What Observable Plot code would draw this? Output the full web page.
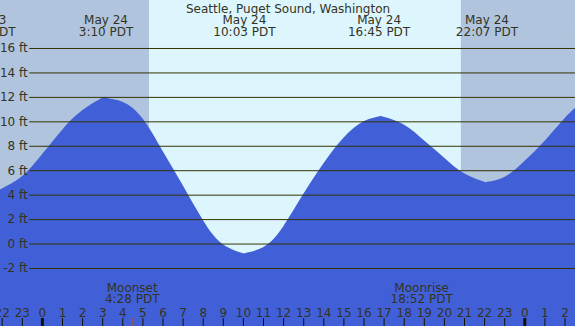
<!DOCTYPE html>
<html><head><meta charset="utf-8">
<script src="https://cdn.jsdelivr.net/npm/d3@7"></script>
<script src="https://cdn.jsdelivr.net/npm/@observablehq/plot@0.6"></script>
<style>html,body{margin:0;padding:0;background:#fff;overflow:hidden}</style>
</head><body><div id="chart"></div>
<script>
// ---- data (hours since May 24 00:00 PDT, heights in feet) ----
const title = "Seattle, Puget Sound, Washington";
const tideHours = [-2.09, -2, -1, 0, 1, 2, 3, 3.167, 4, 5, 6, 7, 8, 9, 10, 10.05, 11, 12, 13, 14, 15, 16, 16.75, 17, 18, 19, 20, 21, 22, 22.117, 23, 24, 25, 26, 26.53];
const tideFeet  = [4.42, 4.5, 5.5, 7.3, 9.3, 10.9, 11.92, 11.93, 11.6, 10.25, 7.6, 4.8, 1.95, -0.05, -0.79, -0.8, -0.3, 1.4, 4.05, 6.55, 8.65, 10.0, 10.4, 10.38, 9.75, 8.45, 7.05, 5.75, 5.05, 5.03, 5.45, 6.75, 8.4, 10.25, 11.1];
const extremeHours = [-2.88, 3.167, 10.05, 16.75, 22.117, 27.82];
const extremeDates = ["May 23", "May 24", "May 24", "May 24", "May 24", "May 25"];
const extremeTimes = ["21:08 PDT", "3:10 PDT", "10:03 PDT", "16:45 PDT", "22:07 PDT", "3:49 PDT"];
const sunriseHour = 5.33;  // 5:20
const sunsetHour = 20.84;  // 20:50
const moonHours = [4.467, 18.867];
const moonNames = ["Moonset", "Moonrise"];
const moonTimes = ["4:28 PDT", "18:52 PDT"];
const hourTicks = [-2, -1, 0, 1, 2, 3, 4, 5, 6, 7, 8, 9, 10, 11, 12, 13, 14, 15, 16, 17, 18, 19, 20, 21, 22, 23, 24, 25, 26];
const hourLabels = ["22", "23", "0", "1", "2", "3", "4", "5", "6", "7", "8", "9", "10", "11", "12", "13", "14", "15", "16", "17", "18", "19", "20", "21", "22", "23", "0", "1", "2"];
const ftTicks = [-2, 0, 2, 4, 6, 8, 10, 12, 14, 16];

// ---- derived tables ----
const xMin = -2.0846, xMax = 26.522;
const yMin = -6.746, yMax = 19.927;
const tide = tideHours.map((h, i) => ({h, ft: tideFeet[i]}));
const extremes = extremeHours.map((h, i) => ({h, label: extremeDates[i] + "\n" + extremeTimes[i]}));
const periods = [
  {x1: xMin, x2: sunriseHour, fill: "#b0c4de"},
  {x1: sunriseHour, x2: sunsetHour, fill: "#ddf6fe"},
  {x1: sunsetHour, x2: xMax, fill: "#b0c4de"}
];
const moon = moonHours.map((h, i) => ({h, label: moonNames[i] + "\n" + moonTimes[i]}));
const hours = hourTicks.map((h, i) => ({h, label: hourLabels[i], midnight: hourLabels[i] === "0"}));

const textColor = "#333322";
const gridColor = "#333300";
const gridStart = -0.63;

const chart = Plot.plot({
  width: 575, height: 326,
  marginTop: 0, marginRight: 0, marginBottom: 0, marginLeft: 0,
  x: {type: "linear", domain: [xMin, xMax], axis: null},
  y: {type: "linear", domain: [yMin, yMax], axis: null},
  style: {fontFamily: "DejaVu Sans", fontSize: "12px", background: "transparent", overflow: "hidden"},
  marks: [
    Plot.rect(periods, {x1: "x1", x2: "x2", y1: yMin, y2: yMax, fill: "fill"}),
    Plot.areaY(tide, {x: "h", y1: yMin, y2: "ft", fill: "#4160d8", curve: "natural"}),
    Plot.ruleY(ftTicks, {y: d => d, x1: gridStart, x2: xMax, stroke: gridColor, strokeWidth: 1}),
    Plot.text(ftTicks, {y: d => d, x: gridStart, text: d => `${d} ft`, textAnchor: "end", dx: -2, fill: textColor}),
    Plot.text([title], {frameAnchor: "top", text: d => d, lineAnchor: "top", dy: 3.8, fill: textColor}),
    Plot.text(extremes, {x: "h", frameAnchor: "top", text: "label", lineAnchor: "top", dy: 15.5, lineHeight: 0.98, fill: textColor}),
    Plot.text(moon, {x: "h", frameAnchor: "top", text: "label", lineAnchor: "top", dy: 283.5, lineHeight: 0.95, fill: textColor}),
    Plot.text(hours, {x: "h", frameAnchor: "top", text: "label", lineAnchor: "top", dy: 307.5, fill: textColor}),
    Plot.ruleX(hours, {x: "h", y1: yMin, y2: -6.1, stroke: "#111100", strokeWidth: d => d.midnight ? 3 : 1}),
    Plot.ruleX(moon, {x: "h", y1: yMin, y2: -6.1, stroke: "#b05030", strokeWidth: 1})
  ]
});
document.getElementById("chart").appendChild(chart);
</script>
</body></html>
